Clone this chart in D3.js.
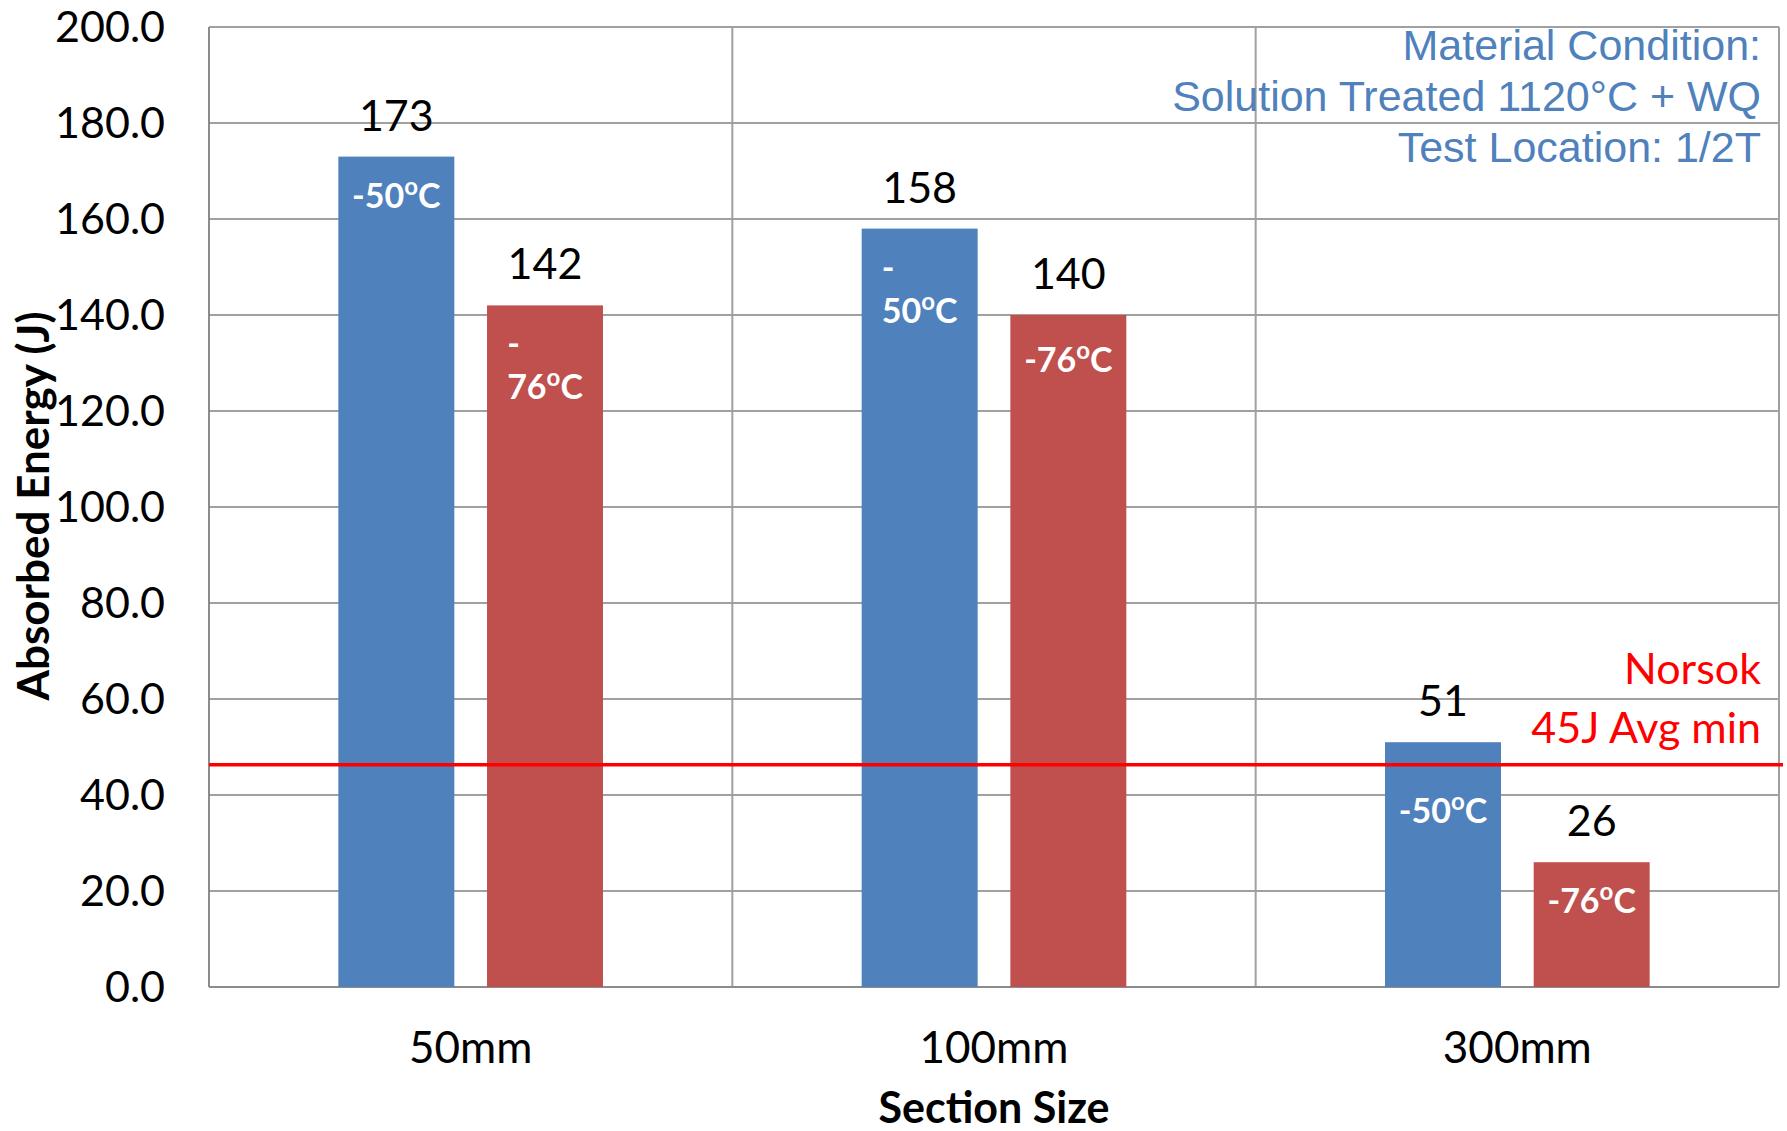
<!DOCTYPE html>
<html>
<head>
<meta charset="utf-8">
<script src="https://d3js.org/d3.v7.min.js"></script>
<style>
  body { margin: 0; background: #fff; }
  text { font-family: Lato, "Open Sans", sans-serif; }
</style>
</head>
<body>
<script>
// chart data
var sections = ["50mm", "100mm", "300mm"];
var seriesKeys = ["-50C", "-76C"];
var energyMinus50 = [173, 158, 51];
var energyMinus76 = [142, 140, 26];
var labelsMinus50 = [["-50°C"], ["-", "50°C"], ["-50°C"]];
var labelsMinus76 = [["-", "76°C"], ["-76°C"], ["-76°C"]];
var norsokLevel = 46.3;
var norsokText = ["Norsok", "45J Avg min"];
var noteText = ["Material Condition:", "Solution Treated 1120°C + WQ", "Test Location: 1/2T"];
var yMax = 200;

// layout
var W = 1787, H = 1131;
var margin = { top: 27, right: 8, bottom: 145, left: 209 };
var width = 1779 - margin.left, height = 960;
var colors = { "-50C": "#4F81BD", "-76C": "#C0504D" };
var gridColor = "#A0A0A0";
// small vertical nudges for the in-bar labels (px)
var insideNudge = { "-50C": [0, 0, 30], "-76C": [0, 6, 0] };

var svg = d3.select("body").append("svg")
    .attr("width", W)
    .attr("height", H);

var g = svg.append("g")
    .attr("transform", "translate(" + margin.left + "," + margin.top + ")");

var x = d3.scaleBand().domain(sections).range([0, width]).padding(0);
var xs = d3.scaleBand().domain(seriesKeys).range([0, x.bandwidth()])
    .paddingInner(0.22).paddingOuter(0.87);
var y = d3.scaleLinear().domain([0, yMax]).range([height, 0]);

// horizontal grid
g.selectAll(".hgrid")
    .data(y.ticks(10))
    .join("line")
    .attr("class", "hgrid")
    .attr("x1", 0).attr("x2", width)
    .attr("y1", d => y(d)).attr("y2", d => y(d))
    .attr("stroke", gridColor).attr("stroke-width", 2);

// vertical grid at category boundaries + right edge
g.selectAll(".vgrid")
    .data(sections.slice(1).map(s => x(s)).concat([width]))
    .join("line")
    .attr("class", "vgrid")
    .attr("x1", d => d).attr("x2", d => d)
    .attr("y1", 0).attr("y2", height)
    .attr("stroke", gridColor).attr("stroke-width", 2);

// axes lines
g.append("line").attr("x1", 0).attr("x2", 0).attr("y1", 0).attr("y2", height)
    .attr("stroke", "#8C8C8C").attr("stroke-width", 2);
g.append("line").attr("x1", 0).attr("x2", width).attr("y1", height).attr("y2", height)
    .attr("stroke", "#8C8C8C").attr("stroke-width", 2);

// y tick labels
g.selectAll(".ytick")
    .data(y.ticks(10))
    .join("text")
    .attr("class", "ytick")
    .attr("x", -44)
    .attr("y", d => y(d))
    .attr("dy", "0.36em")
    .attr("text-anchor", "end")
    .attr("font-size", 43)
    .attr("fill", "#000")
    .text(d3.format(".1f"));

// x category labels
g.selectAll(".xtick")
    .data(sections)
    .join("text")
    .attr("class", "xtick")
    .attr("x", d => x(d) + x.bandwidth() / 2)
    .attr("y", 1063 - margin.top)
    .attr("text-anchor", "middle")
    .attr("font-size", 44)
    .text(d => d);

// bars
var rows = [];
sections.forEach(function (s, i) {
    rows.push({ sec: s, key: "-50C", v: energyMinus50[i], lines: labelsMinus50[i], i: i });
    rows.push({ sec: s, key: "-76C", v: energyMinus76[i], lines: labelsMinus76[i], i: i });
});

g.selectAll(".bar")
    .data(rows)
    .join("rect")
    .attr("class", "bar")
    .attr("x", d => x(d.sec) + xs(d.key))
    .attr("width", xs.bandwidth())
    .attr("y", d => y(d.v))
    .attr("height", d => height - y(d.v))
    .attr("fill", d => colors[d.key]);

// value labels above bars
g.selectAll(".val")
    .data(rows)
    .join("text")
    .attr("class", "val")
    .attr("x", d => x(d.sec) + xs(d.key) + xs.bandwidth() / 2)
    .attr("y", d => y(d.v) - 26)
    .attr("text-anchor", "middle")
    .attr("font-size", 43)
    .text(d => d.v);

// labels inside bars
function writeTemp(sel, str) {
    var parts = str.split("°C");
    sel.append("tspan").text(parts[0]);
    if (parts.length > 1) {
        sel.append("tspan").attr("font-size", 24).attr("dy", -13).text("o");
        sel.append("tspan").attr("dy", 13).text("C");
    }
}

rows.forEach(function (d) {
    var cx = x(d.sec) + xs(d.key) + xs.bandwidth() / 2;
    var top = y(d.v) + 51 + insideNudge[d.key][d.i];
    var lbl = g.append("g").attr("class", "inlabel")
        .attr("fill", "#fff").attr("font-weight", 700).attr("font-size", 34);
    var nodes = d.lines.map(function (line, k) {
        var t = lbl.append("text").attr("y", top + k * 43);
        writeTemp(t, line);
        return t;
    });
    var last = nodes[nodes.length - 1];
    var w = last.node().getComputedTextLength();
    nodes.forEach(function (t) {
        t.attr("x", cx - w / 2);
    });
});

// Norsok requirement line
g.append("line")
    .attr("x1", 0).attr("x2", width + 4)
    .attr("y1", y(norsokLevel)).attr("y2", y(norsokLevel))
    .attr("stroke", "#FF0000").attr("stroke-width", 3.5);

g.selectAll(".norsok")
    .data(norsokText)
    .join("text")
    .attr("class", "norsok")
    .attr("x", 1761 - margin.left)
    .attr("y", (d, i) => 684 - margin.top + i * 59)
    .attr("text-anchor", "end")
    .attr("font-size", 43)
    .attr("fill", "#FF0000")
    .text(d => d);

// material note
svg.selectAll(".note")
    .data(noteText)
    .join("text")
    .attr("class", "note")
    .attr("x", 1761)
    .attr("y", (d, i) => 60 + i * 51)
    .attr("text-anchor", "end")
    .attr("font-size", 43)
    .style("font-family", "'Liberation Sans', Arial, sans-serif")
    .attr("fill", "#4F81BD")
    .text(d => d);

// axis titles
svg.append("text")
    .attr("x", margin.left + width / 2)
    .attr("y", 1123)
    .attr("text-anchor", "middle")
    .attr("font-size", 43)
    .attr("font-weight", 700)
    .text("Section Size");

svg.append("text")
    .attr("transform", "translate(34,506) rotate(-90)")
    .attr("text-anchor", "middle")
    .attr("dy", "0.35em")
    .attr("font-size", 44)
    .attr("font-weight", 700)
    .text("Absorbed Energy (J)");
</script>
</body>
</html>
